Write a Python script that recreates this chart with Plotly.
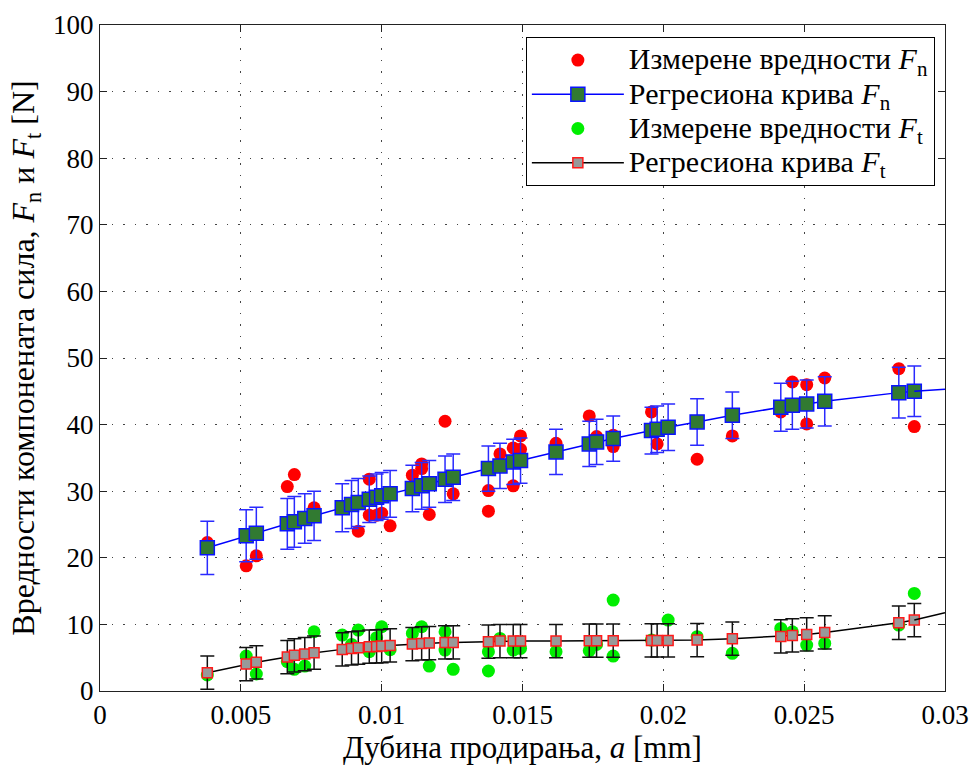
import plotly.graph_objects as go

# Regression (curve) sample points
x_reg = [0.00381, 0.00519, 0.00555, 0.00665, 0.00690, 0.00727, 0.00760, 0.00860, 0.00893, 0.00917,
         0.00956, 0.00982, 0.01000, 0.01030, 0.01109, 0.01142, 0.01169, 0.01225, 0.01254, 0.01379,
         0.01420, 0.01467, 0.01493, 0.01619, 0.01737, 0.01763, 0.01822, 0.01958, 0.01978, 0.02017,
         0.02120, 0.02245, 0.02417, 0.02458, 0.02509, 0.02573, 0.02836, 0.02891]
fn_reg = [21.5, 23.3, 23.7, 25.1, 25.4, 25.9, 26.3, 27.5, 28.0, 28.3,
          28.8, 29.1, 29.3, 29.6, 30.4, 30.8, 31.1, 31.8, 32.1, 33.4,
          33.8, 34.4, 34.6, 35.9, 37.1, 37.4, 37.9, 39.1, 39.3, 39.6,
          40.4, 41.4, 42.6, 42.9, 43.1, 43.5, 44.8, 45.0]
fn_err = [4.0, 3.9, 3.9, 3.8, 3.8, 3.7, 3.7, 3.6, 3.6, 3.6,
          3.5, 3.5, 3.5, 3.5, 3.5, 3.5, 3.5, 3.5, 3.5, 3.4,
          3.4, 3.4, 3.4, 3.4, 3.4, 3.4, 3.4, 3.5, 3.5, 3.5,
          3.5, 3.5, 3.6, 3.6, 3.6, 3.7, 3.8, 3.8]
ft_reg = [2.75, 4.05, 4.3, 5.1, 5.35, 5.55, 5.75, 6.25, 6.4, 6.5,
          6.65, 6.7, 6.75, 6.85, 7.05, 7.15, 7.2, 7.3, 7.3, 7.4,
          7.5, 7.5, 7.5, 7.5, 7.55, 7.55, 7.55, 7.6, 7.6, 7.6,
          7.65, 7.85, 8.2, 8.35, 8.5, 8.8, 10.25, 10.65]
ft_err = [2.5] * len(x_reg)

# Curve continuation to the axis end
x_end = [0.02891, 0.03]
fn_end = [45.0, 45.3]
ft_end = [10.65, 11.75]

# Measured values
x_meas_n = [0.00381, 0.00519, 0.00555, 0.00665, 0.00690, 0.00727, 0.00760, 0.00917, 0.00956, 0.00956,
            0.00982, 0.01000, 0.01030, 0.01109, 0.01142, 0.01142, 0.01169, 0.01225, 0.01254, 0.01379,
            0.01379, 0.01420, 0.01467, 0.01467, 0.01493, 0.01493, 0.01619, 0.01737, 0.01763, 0.01822,
            0.01822, 0.01958, 0.01978, 0.02120, 0.02245, 0.02417, 0.02458, 0.02509, 0.02509, 0.02573,
            0.02836, 0.02891]
fn_meas = [22.3, 18.8, 20.3, 30.7, 32.5, 26.0, 27.5, 24.0, 31.8, 26.4,
           26.4, 26.7, 24.8, 32.4, 33.4, 34.1, 26.5, 40.5, 29.6, 30.1,
           27.0, 35.6, 30.8, 36.5, 38.3, 36.3, 37.2, 41.3, 38.2, 36.7,
           38.4, 41.9, 37.1, 34.8, 38.3, 41.9, 46.4, 46.0, 40.1, 47.0,
           48.4, 39.7]
x_meas_t = [0.00381, 0.00519, 0.00555, 0.00665, 0.00690, 0.00727, 0.00760, 0.00860, 0.00893, 0.00917,
            0.00956, 0.00982, 0.01000, 0.01030, 0.01109, 0.01142, 0.01169, 0.01225, 0.01225, 0.01254,
            0.01379, 0.01379, 0.01420, 0.01467, 0.01493, 0.01619, 0.01737, 0.01763, 0.01822, 0.01822,
            0.01958, 0.02017, 0.02120, 0.02245, 0.02417, 0.02458, 0.02509, 0.02573, 0.02836, 0.02891]
ft_meas = [2.4, 5.25, 2.55, 4.4, 3.25, 3.75, 8.9, 8.4, 7.0, 9.15,
           5.9, 8.0, 9.65, 6.2, 8.65, 9.65, 3.75, 8.9, 6.15, 3.25,
           3.0, 5.9, 7.9, 6.15, 6.4, 5.9, 6.05, 7.0, 5.25, 13.65,
           7.65, 10.65, 8.15, 5.65, 9.4, 8.9, 6.9, 7.15, 9.9, 14.65]

x_ticks = [0, 0.005, 0.01, 0.015, 0.02, 0.025, 0.03]
x_tick_labels = ["0", "0.005", "0.01", "0.015", "0.02", "0.025", "0.03"]
y_ticks = [0, 10, 20, 30, 40, 50, 60, 70, 80, 90, 100]

legend_names = [
    "Измерене вредности <i>F</i><sub>n</sub>",
    "Регресиона крива <i>F</i><sub>n</sub>",
    "Измерене вредности <i>F</i><sub>t</sub>",
    "Регресиона крива <i>F</i><sub>t</sub>",
]

FONT = "Liberation Serif"


def big(s):
    return '<span style="font-size:30px">' + s + "</span>"


fig = go.Figure()
fig.add_trace(go.Scatter(
    x=x_meas_n, y=fn_meas, mode="markers", name=big(legend_names[0]),
    marker=dict(color="#ff0000", size=13, symbol="circle", line=dict(width=0))))
fig.add_trace(go.Scatter(
    x=x_reg, y=fn_reg, mode="lines+markers", name=big(legend_names[1]),
    line=dict(color="#0000ff", width=1.5),
    marker=dict(symbol="square", size=14, color="#317a31", line=dict(color="#0a14ff", width=1.5)),
    error_y=dict(type="data", array=fn_err, visible=True, color="#2a2aff", thickness=1.5, width=7)))
fig.add_trace(go.Scatter(
    x=x_end, y=fn_end, mode="lines", showlegend=False, hoverinfo="skip",
    line=dict(color="#0000ff", width=1.5)))
fig.add_trace(go.Scatter(
    x=x_meas_t, y=ft_meas, mode="markers", name=big(legend_names[2]),
    marker=dict(color="#00ee00", size=13, symbol="circle", line=dict(width=0))))
fig.add_trace(go.Scatter(
    x=x_reg, y=ft_reg, mode="lines+markers", name=big(legend_names[3]),
    line=dict(color="#000000", width=1.5),
    marker=dict(symbol="square", size=10, color="#999999", line=dict(color="#ff1a1a", width=1.5)),
    error_y=dict(type="data", array=ft_err, visible=True, color="#111111", thickness=1.5, width=7)))
fig.add_trace(go.Scatter(
    x=x_end, y=ft_end, mode="lines", showlegend=False, hoverinfo="skip",
    line=dict(color="#000000", width=1.5)))

axis_common = dict(
    showline=True, linecolor="#222222", linewidth=1, mirror="ticks",
    ticks="inside", ticklen=7, tickcolor="#222222",
    showgrid=True, gridcolor="#444444", gridwidth=1, griddash="1.5px,10px",
    zeroline=False, tickfont=dict(family=FONT, size=27, color="black"),
)

fig.update_layout(
    width=976, height=765,
    margin=dict(l=100, r=31, t=25, b=74),
    paper_bgcolor="white", plot_bgcolor="white",
    font=dict(family=FONT, size=27, color="black"),
    xaxis=dict(range=[0, 0.03], tickvals=x_ticks, ticktext=x_tick_labels,
               title=dict(text="Дубина продирања, <i>a</i> [mm]", standoff=2,
                          font=dict(family=FONT, size=31)),
               automargin=False, **axis_common),
    yaxis=dict(range=[0, 100], tickvals=y_ticks,
               title=dict(text="Вредности компонената сила, <i>F</i><sub>n</sub> и <i>F</i><sub>t</sub> [N]",
                          standoff=8, font=dict(family=FONT, size=32)),
               automargin=False, **axis_common),
    legend=dict(x=0.988, y=0.982, xanchor="right", yanchor="top",
                bgcolor="white", bordercolor="black", borderwidth=1,
                font=dict(family=FONT, size=24), tracegroupgap=0, itemwidth=92),
    showlegend=True,
)

fig.write_html("out.html")
